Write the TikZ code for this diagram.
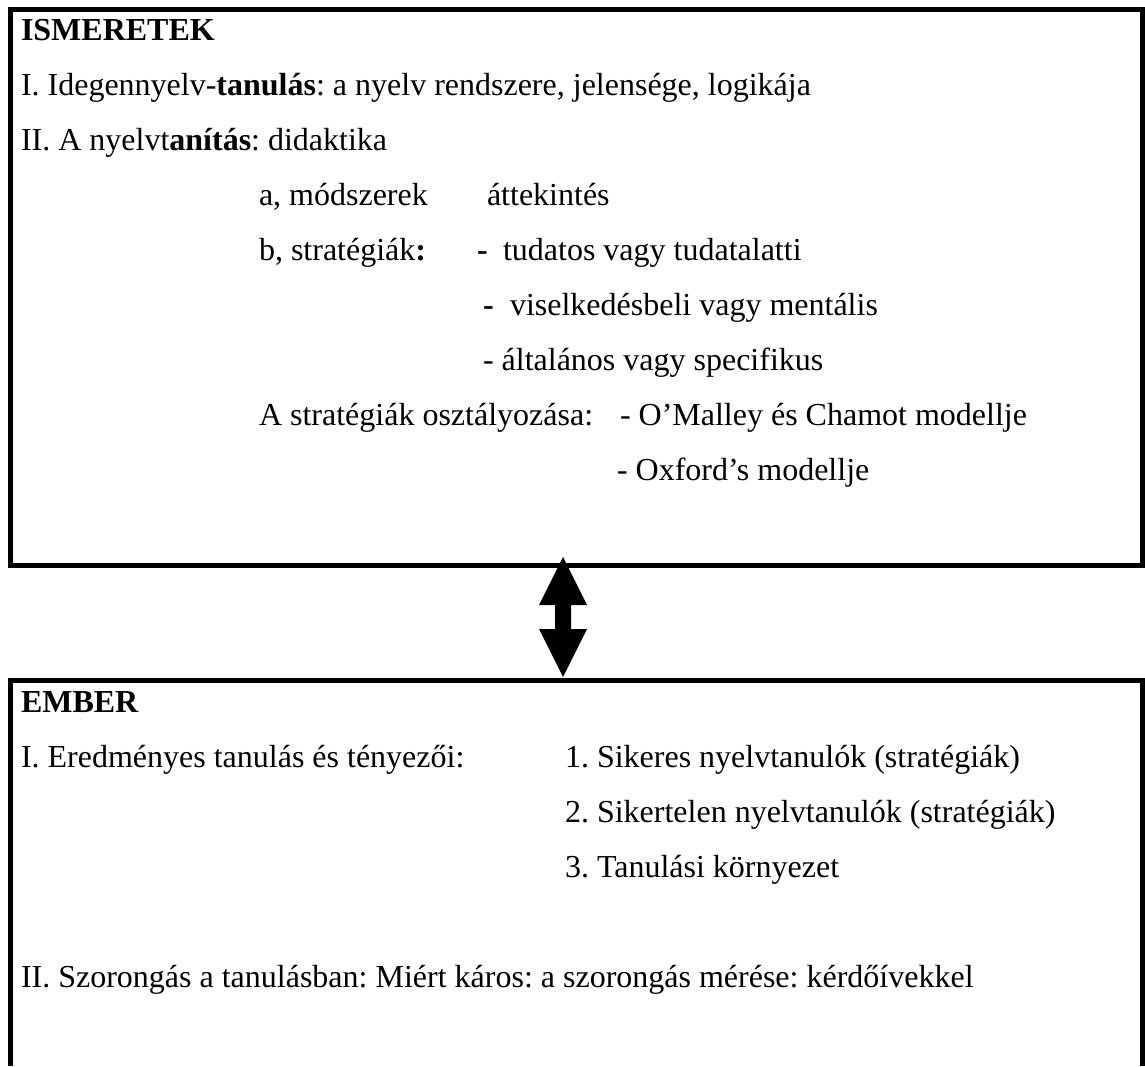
\documentclass[tikz,border=0pt]{standalone}
\usepackage{fontspec}
\setmainfont{Liberation Serif}
\frenchspacing
\begin{document}
\begin{tikzpicture}[x=0.5pt,y=-0.5pt,
  txt/.style={anchor=base west,inner sep=0pt,outer sep=0pt,
    font=\fontsize{16pt}{19pt}\selectfont},
  frame/.style={line width=2.5pt,draw=black}]
\useasboundingbox (0,0) rectangle (1145,1066);

% --- upper box: ISMERETEK ---
\coordinate (ul) at (10.5,9.5);
\coordinate (ur) at (1142.5,9.5);
\coordinate (ll) at (10.5,565.5);
\coordinate (lr) at (1142.5,565.5);
\draw[frame] (ul) -- (ur) -- (lr) -- (ll) -- cycle;

\node[txt] (t0) at (21,40)  {\textbf{ISMERETEK}};
\node[txt] (t1) at (21,95)  {I. Idegennyelv-\textbf{tanulás}: a nyelv rendszere, jelensége, logikája};
\node[txt] (t2) at (21,150) {II. A nyelvt\textbf{anítás}: didaktika};
\node[txt] (t3a) at (259,205) {a, módszerek};
\node[txt] (t3b) at (487,205) {áttekintés};
\node[txt] (t4a) at (259,260) {b, stratégiák\textbf{:}};
\node[txt] (t4b) at (477,260) {\textbf{-}};
\node[txt] (t4c) at (503,260) {tudatos vagy tudatalatti};
\node[txt] (t5a) at (483,315) {\textbf{-}};
\node[txt] (t5b) at (510,315) {viselkedésbeli vagy mentális};
\node[txt] (t6) at (483,370) {- általános vagy specifikus};
\node[txt] (t7a) at (259,425) {A stratégiák osztályozása:};
\node[txt] (t7b) at (620,425) {- O’Malley és Chamot modellje};
\node[txt] (t8) at (617,480) {- Oxford’s modellje};

% --- lower box: EMBER (open at the bottom) ---
\coordinate (bl0) at (10.5,1066);
\coordinate (bl1) at (10.5,680.5);
\coordinate (br1) at (1142.5,680.5);
\coordinate (br0) at (1142.5,1066);
\draw[frame] (bl0) -- (bl1) -- (br1) -- (br0);

\node[txt] (e0) at (21,712) {\textbf{EMBER}};
\node[txt] (e1a) at (21,767) {I. Eredményes tanulás és tényezői:};
\node[txt] (e1b) at (565,767) {1. Sikeres nyelvtanulók (stratégiák)};
\node[txt] (e2) at (565,822) {2. Sikertelen nyelvtanulók (stratégiák)};
\node[txt] (e3) at (565,877) {3. Tanulási környezet};
\node[txt] (e4) at (21,987) {II. Szorongás a tanulásban: Miért káros: a szorongás mérése: kérdőívekkel};

% --- double block arrow between the boxes ---
\coordinate (atop) at (563,557);
\coordinate (abot) at (563,677);
\fill[black] (atop) -- ++(24,48) -- ++(-16,0) -- ++(0,24) -- ++(16,0)
  -- (abot) -- ++(-24,-48) -- ++(16,0) -- ++(0,-24) -- ++(-16,0) -- cycle;
\end{tikzpicture}
\end{document}
